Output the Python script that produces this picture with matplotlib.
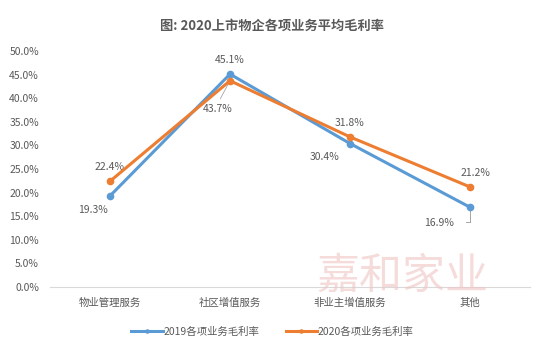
import matplotlib
matplotlib.use("Agg")
import matplotlib.pyplot as plt
from matplotlib.ticker import FuncFormatter

plt.rcParams['font.family'] = ['Noto Sans CJK SC', 'DejaVu Sans']

categories = ['物业管理服务', '社区增值服务', '非业主增值服务', '其他']
rate_2019 = [19.3, 45.1, 30.4, 16.9]
rate_2020 = [22.4, 43.7, 31.8, 21.2]
yticks = [0, 5, 10, 15, 20, 25, 30, 35, 40, 45, 50]

blue = '#5B9BD5'
orange = '#ED7D31'
grey = '#595959'

fig = plt.figure(figsize=(5.45, 3.52), dpi=100)
ax = fig.add_axes([50 / 545, 1 - 287 / 352, 480 / 545, 236 / 352])

x = list(range(len(categories)))
ax.plot(x, rate_2019, color=blue, lw=2.2, marker='o', ms=4.5, label='2019各项业务毛利率', zorder=3)
ax.plot(x, rate_2020, color=orange, lw=2.2, marker='o', ms=4.5, label='2020各项业务毛利率', zorder=4)

ax.set_xlim(-0.5, 3.5)
ax.set_ylim(0, 50)
ax.set_yticks(yticks)
ax.yaxis.set_major_formatter(FuncFormatter(lambda v, p: f'{v:.1f}%'))
ax.set_xticks(x)
ax.set_xticklabels(categories)
ax.tick_params(axis='both', length=0, labelsize=7.5, colors=grey)
ax.tick_params(axis='x', pad=8)
ax.tick_params(axis='y', pad=8)
for s in ['top', 'right', 'left']:
    ax.spines[s].set_visible(False)
ax.spines['bottom'].set_color('#d9d9d9')
ax.spines['bottom'].set_linewidth(0.8)

# data labels (offsets in points)
off19 = [(-12, -10), (0, 10), (-18, -10), (-22, -11)]
off20 = [(0, 10), (-9, -20), (0, 10), (4, 10)]
for i in x:
    ax.annotate(f'{rate_2019[i]:.1f}%', (i, rate_2019[i]), xytext=off19[i], textcoords='offset points',
                ha='center', va='center', fontsize=7.5, color=grey)
    ax.annotate(f'{rate_2020[i]:.1f}%', (i, rate_2020[i]), xytext=off20[i], textcoords='offset points',
                ha='center', va='center', fontsize=7.5, color=grey)
# leader lines
ax.annotate('', (1, rate_2020[1]), xytext=(-7, -13), textcoords='offset points',
            arrowprops=dict(arrowstyle='-', color='#a6a6a6', lw=0.6, shrinkA=0, shrinkB=2))
ax.plot([3, 3], [rate_2019[3] - 0.8, rate_2019[3] - 3.2], color='#a6a6a6', lw=0.7, zorder=2)
ax.plot([2.965, 3], [rate_2019[3] - 3.2, rate_2019[3] - 3.2], color='#a6a6a6', lw=0.7, zorder=2)

fig.text(0.5, 1 - 26 / 352, '图: 2020上市物企各项业务平均毛利率', ha='center', va='center',
         fontsize=9.5, fontweight='bold', color=grey)

# watermark
fig.text(402 / 545, 1 - 277 / 352, '嘉和家业', ha='center', va='center', fontsize=31,
         color='#f0c4c4', alpha=0.6, zorder=0)

leg = fig.legend(loc='center', bbox_to_anchor=(0.5, 1 - 332 / 352), ncol=2, frameon=False,
                 fontsize=7.5, handlelength=3, handletextpad=0.1, columnspacing=2.5, markerscale=0.5)
for t in leg.get_texts():
    t.set_color(grey)

fig.savefig('out.png', dpi=100)
